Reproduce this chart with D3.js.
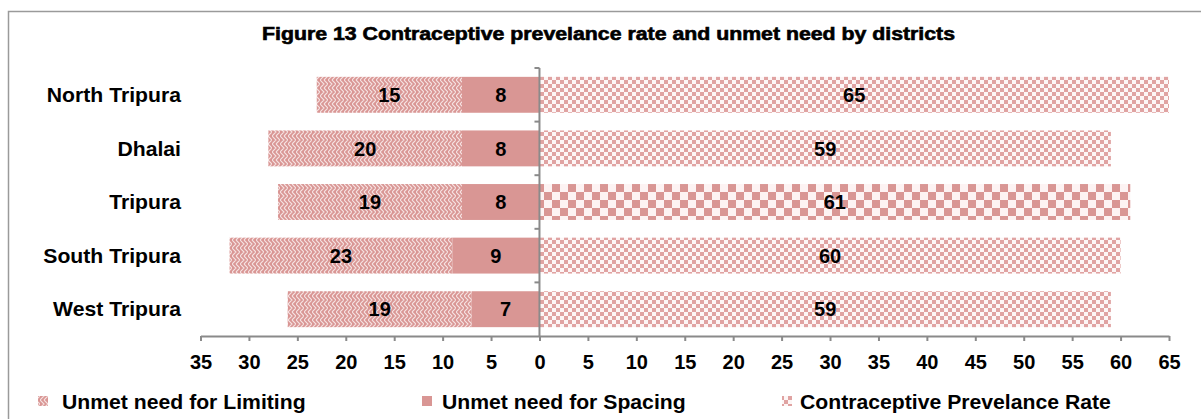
<!DOCTYPE html>
<html>
<head>
<meta charset="utf-8">
<script src="https://cdn.jsdelivr.net/npm/d3@7"></script>
<style>
  html, body { margin: 0; padding: 0; background: #fff; }
  svg { display: block; font-family: "Liberation Sans", Arial, sans-serif; }
</style>
</head>
<body>
<svg id="chart" width="1201" height="419"></svg>
<script>
// Districts, top to bottom
const districts = ["North Tripura", "Dhalai", "Tripura", "South Tripura", "West Tripura"];
// Unmet need for limiting (%), drawn to the left of zero
const unmetLimiting = [15, 20, 19, 23, 19];
// Unmet need for spacing (%), drawn to the left of zero next to the axis
const unmetSpacing = [8, 8, 8, 9, 7];
// Contraceptive prevalence rate (%), drawn to the right of zero
const cpr = [65, 59, 61, 60, 59];
// Axis ticks (signed positions; labels show absolute values)
const xTicks = [-35, -30, -25, -20, -15, -10, -5, 0, 5, 10, 15, 20, 25, 30, 35, 40, 45, 50, 55, 60, 65];
const seriesNames = ["Unmet need for Limiting", "Unmet need for Spacing", "Contraceptive Prevelance Rate"];
const titleText = "Figure 13 Contraceptive prevelance rate and unmet need by districts";

const PINK = "#D99694";
const AXIS = "#8a8a8a";

const svg = d3.select("#chart");
const defs = svg.append("defs");

// Weave-like zigzag texture for the limiting series
const weave = defs.append("pattern").attr("id", "pWeave")
  .attr("patternUnits", "userSpaceOnUse").attr("width", 8).attr("height", 8);
weave.append("rect").attr("width", 8).attr("height", 8).attr("fill", PINK);
weave.append("path").attr("d", "M0,0 L4,4 L0,8 M4,0 L8,4 L4,8")
  .attr("stroke", "#f6e3e3").attr("stroke-width", 1.1).attr("fill", "none");

// Small checker board for the prevalence rate
const small = defs.append("pattern").attr("id", "pSmall")
  .attr("patternUnits", "userSpaceOnUse").attr("width", 8).attr("height", 8);
small.append("rect").attr("width", 8).attr("height", 8).attr("fill", "#fdf6f6");
small.append("rect").attr("x", 0).attr("y", 0).attr("width", 4).attr("height", 4).attr("fill", "#e0a3a2");
small.append("rect").attr("x", 4).attr("y", 4).attr("width", 4).attr("height", 4).attr("fill", "#e0a3a2");

// Large checker board used for the state total
const large = defs.append("pattern").attr("id", "pLarge")
  .attr("patternUnits", "userSpaceOnUse").attr("width", 16).attr("height", 16);
large.append("rect").attr("width", 16).attr("height", 16).attr("fill", "#fdf3f3");
large.append("rect").attr("x", 0).attr("y", 0).attr("width", 8).attr("height", 8).attr("fill", PINK);
large.append("rect").attr("x", 8).attr("y", 8).attr("width", 8).attr("height", 8).attr("fill", PINK);

// Outer frame
svg.append("rect").attr("x", 8.5).attr("y", 11.5).attr("width", 1200).attr("height", 420)
  .attr("fill", "none").attr("stroke", "#9a9a9a").attr("stroke-width", 1.5);

// Title
svg.append("text").attr("x", 608.5).attr("y", 39.5)
  .attr("text-anchor", "middle")
  .attr("font-size", 18).attr("font-weight", "bold")
  .attr("stroke", "#000").attr("stroke-width", 0.6)
  .attr("textLength", 693).attr("lengthAdjust", "spacingAndGlyphs")
  .text(titleText);

// Scales
const x = d3.scaleLinear().domain([-35, 65]).range([200.5, 1169]);
const y = d3.scaleBand().domain(districts).range([68, 336]).paddingInner(0.33).paddingOuter(0.165);

const rows = districts.map((d, i) => ({
  name: d, lim: unmetLimiting[i], sp: unmetSpacing[i], cpr: cpr[i],
  cprFill: d === "Tripura" ? "url(#pLarge)" : "url(#pSmall)"
}));

const g = svg.append("g");

// Limiting segment
g.selectAll(".lim").data(rows).join("rect")
  .attr("x", d => x(-(d.lim + d.sp)))
  .attr("y", d => y(d.name))
  .attr("width", d => x(-d.sp) - x(-(d.lim + d.sp)))
  .attr("height", y.bandwidth())
  .attr("fill", "url(#pWeave)");

// Spacing segment
g.selectAll(".sp").data(rows).join("rect")
  .attr("x", d => x(-d.sp))
  .attr("y", d => y(d.name))
  .attr("width", d => x(0) - x(-d.sp))
  .attr("height", y.bandwidth())
  .attr("fill", PINK);

// Prevalence segment
g.selectAll(".cpr").data(rows).join("rect")
  .attr("x", x(0))
  .attr("y", d => y(d.name))
  .attr("width", d => x(d.cpr) - x(0))
  .attr("height", y.bandwidth())
  .attr("fill", d => d.cprFill);

// Value labels
const lab = svg.append("g").attr("font-size", 20).attr("font-weight", "bold")
  .attr("text-anchor", "middle").attr("fill", "#000");
rows.forEach(d => {
  const cy = y(d.name) + y.bandwidth() / 2;
  lab.append("text").attr("x", (x(-(d.lim + d.sp)) + x(-d.sp)) / 2).attr("y", cy).attr("dy", "0.36em").text(d.lim);
  lab.append("text").attr("x", (x(-d.sp) + x(0)) / 2).attr("y", cy).attr("dy", "0.36em").text(d.sp);
  lab.append("text").attr("x", (x(0) + x(d.cpr)) / 2).attr("y", cy).attr("dy", "0.36em").text(d.cpr);
});

// X axis
const xAxis = svg.append("g").attr("transform", "translate(0,336)")
  .call(d3.axisBottom(x).tickValues(xTicks).tickFormat(v => Math.abs(v))
    .tickSize(5).tickSizeOuter(0).tickPadding(14));
xAxis.select(".domain").attr("stroke", AXIS).attr("stroke-width", 2);
xAxis.selectAll(".tick line").attr("stroke", AXIS).attr("stroke-width", 2);
xAxis.selectAll(".tick text").attr("font-size", 20).attr("font-weight", "bold")
  .attr("fill", "#000").attr("font-family", "Liberation Sans, Arial, sans-serif");

// Category axis at zero, with ticks on the band boundaries
const yAxisG = svg.append("g");
yAxisG.append("line").attr("x1", x(0)).attr("x2", x(0)).attr("y1", y.range()[0]).attr("y2", 336)
  .attr("stroke", AXIS).attr("stroke-width", 2);
const step = y.step();
const bounds = districts.map(d => y(d) - step * y.paddingInner() / 2);
yAxisG.selectAll(".bt").data(bounds).join("line")
  .attr("x1", x(0) - 5).attr("x2", x(0))
  .attr("y1", d => d).attr("y2", d => d)
  .attr("stroke", AXIS).attr("stroke-width", 2);

// Category labels
const catG = svg.append("g").attr("font-size", 20).attr("font-weight", "bold").attr("fill", "#000");
districts.forEach(d => {
  catG.append("g")
    .attr("transform", `translate(181,${y(d) + y.bandwidth() / 2}) scale(1.06,1)`)
    .append("text").attr("text-anchor", "end").attr("dy", "0.36em").text(d);
});

// Legend
const legendX = [{ m: 38, t: 62 }, { m: 422, t: 442 }, { m: 782, t: 800 }];
const legendFill = ["url(#pWeave)", PINK, "url(#pSmall)"];
const leg = svg.append("g").attr("font-size", 20).attr("font-weight", "bold").attr("fill", "#000");
seriesNames.forEach((name, i) => {
  leg.append("rect").attr("x", legendX[i].m).attr("y", 396).attr("width", 10).attr("height", 10)
    .attr("fill", legendFill[i]);
  leg.append("g").attr("transform", `translate(${legendX[i].t},402) scale(1.06,1)`)
    .append("text").attr("dy", "0.36em").text(name);
});
</script>
</body>
</html>
